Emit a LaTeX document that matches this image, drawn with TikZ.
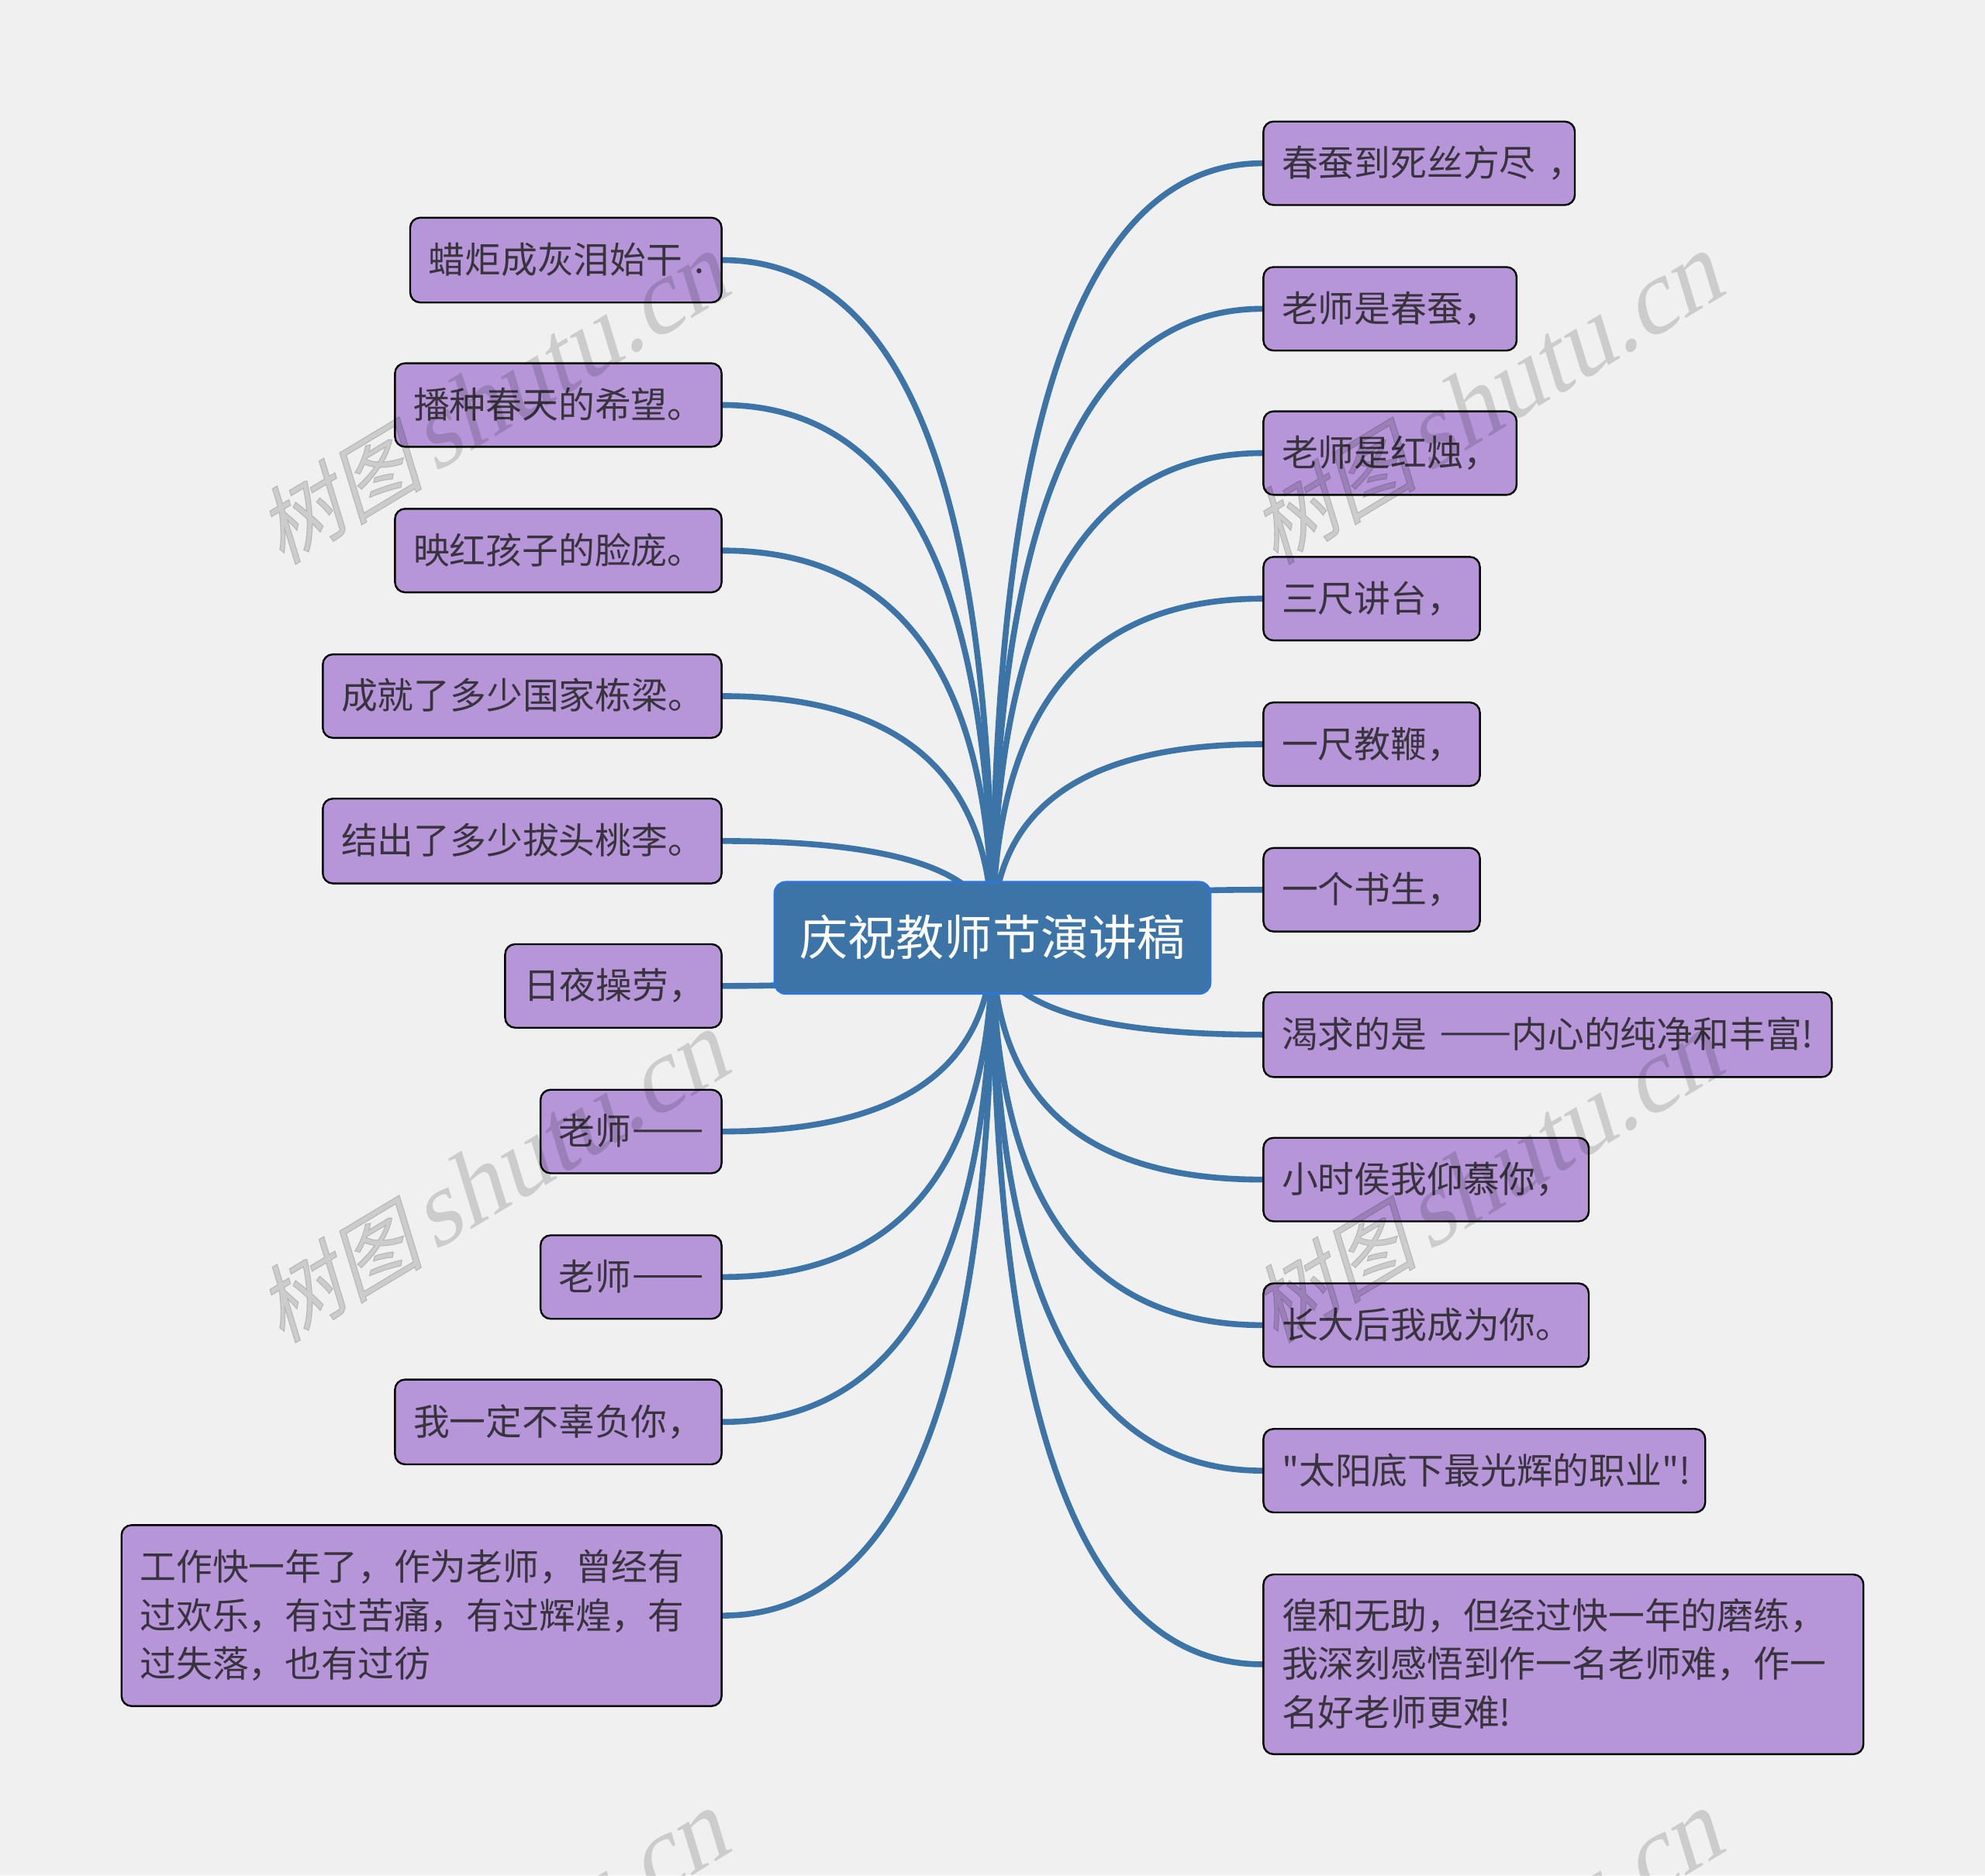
\documentclass[tikz,border=0pt]{standalone}
\usepackage{fontspec}
\setmainfont{Noto Sans CJK SC}[Ligatures=TeXOff]
\newfontfamily\wmlatin{Liberation Serif}[FakeSlant=0.25]
\newfontfamily\wmcjk{Noto Sans CJK SC}[FakeSlant=0.25,FakeBold=1]
\usetikzlibrary{calc}
\pgfdeclarelayer{back}
\pgfsetlayers{back,main}
\definecolor{bgc}{HTML}{F0F0F0}
\definecolor{linec}{HTML}{3C74A8}
\definecolor{rootb}{HTML}{2F74D8}
\definecolor{leaff}{HTML}{B696D9}
\definecolor{txtc}{HTML}{38333D}
\tikzset{
 leaf/.style={draw=black,line width=1.2pt,fill=leaff,rounded corners=6.5pt,inner xsep=0pt,inner ysep=0pt,text=txtc,align=left,font=\fontsize{23.4pt}{31.3pt}\selectfont},
 rootn/.style={draw=rootb,line width=1.5pt,fill=linec,rounded corners=7pt,inner sep=0pt,text=white,align=center,font=\fontsize{31.1pt}{36pt}\selectfont,text height=27pt,text depth=4pt},
 conn/.style={draw=linec,line width=3.8pt},
 wm/.style={text=black,text opacity=0.15,rotate=31,inner sep=0pt}
}
\newcommand\tl[1]{\mbox{\rule[-3.2pt]{0pt}{23.4pt}#1}}
\newcommand\fd{{\addfontfeatures{RawFeature=+fwid,FakeBold=2}——}}
\newcommand\lbx[6]{%
 \pgfmathsetlengthmacro\mw{(#4-#2)*0.8163pt}%
 \pgfmathsetlengthmacro\mh{(#5-#3)*0.8163pt}%
 \pgfmathsetlengthmacro\tw{(#4-#2-29)*0.8163pt}%
 \node[leaf,minimum width=\mw,minimum height=\mh,text width=\tw] (#1) at ({(#2+#4)/2},{(#3+#5)/2}) {#6};}
\newcommand\wmk[3]{\node[wm] (#1) at (#2,#3) {{\wmcjk\fontsize{54pt}{60pt}\selectfont 树图}\hspace{5pt} {\wmlatin\fontsize{67pt}{67pt}\selectfont shutu.cn}};}
\begin{document}
\begin{tikzpicture}[x=0.8163pt,y=-0.8163pt]
\useasboundingbox (0,0) rectangle (1568,1481.7);
\begin{pgfonlayer}{back}
\fill[bgc] (0,0) rectangle (1568,1481.7);
\end{pgfonlayer}
\pgfmathsetlengthmacro\rw{344*0.8163pt}
\pgfmathsetlengthmacro\rh{88*0.8163pt}
\node[rootn,minimum width=\rw,minimum height=\rh] (root) at (784,741) {庆祝教师节演讲稿};
\lbx{L1}{324}{172}{570}{239}{\tl{蜡炬成灰泪始干 .}}
\lbx{L2}{312}{287}{570}{353}{\tl{播种春天的希望。}}
\lbx{L3}{312}{402}{570}{468}{\tl{映红孩子的脸庞。}}
\lbx{L4}{255}{517}{570}{583}{\tl{成就了多少国家栋梁。}}
\lbx{L5}{255}{631}{570}{698}{\tl{结出了多少拔头桃李。}}
\lbx{L6}{399}{746}{570}{812}{\tl{日夜操劳，}}
\lbx{L7}{427}{861}{570}{927}{\tl{老师\fd}}
\lbx{L8}{427}{976}{570}{1042}{\tl{老师\fd}}
\lbx{L9}{312}{1090}{570}{1157}{\tl{我一定不辜负你，}}
\lbx{L10}{96}{1205}{570}{1348}{\tl{工作快一年了，作为老师，曾经有}\\\tl{过欢乐，有过苦痛，有过辉煌，有}\\\tl{过失落，也有过彷}}
\lbx{R1}{998}{96}{1244}{162}{\tl{春蚕到死丝方尽 ，}}
\lbx{R2}{998}{211}{1198}{277}{\tl{老师是春蚕，}}
\lbx{R3}{998}{325}{1198}{391}{\tl{老师是红烛，}}
\lbx{R4}{998}{440}{1169}{506}{\tl{三尺讲台，}}
\lbx{R5}{998}{555}{1169}{621}{\tl{一尺教鞭，}}
\lbx{R6}{998}{670}{1169}{736}{\tl{一个书生，}}
\lbx{R7}{998}{784}{1447}{851}{\tl{渴求的是 \fd 内心的纯净和丰富!}}
\lbx{R8}{998}{899}{1255}{965}{\tl{小时侯我仰慕你，}}
\lbx{R9}{998}{1014}{1255}{1080}{\tl{长大后我成为你。}}
\lbx{R10}{998}{1129}{1347}{1195}{\tl{"太阳底下最光辉的职业"!}}
\lbx{R11}{998}{1244}{1472}{1386}{\tl{徨和无助，但经过快一年的磨练，}\\\tl{我深刻感悟到作一名老师难，作一}\\\tl{名好老师更难!}}
\begin{pgfonlayer}{back}
\foreach \n in {L1,L2,L3,L4,L5,L6,L7,L8,L9,L10}{
 \draw[conn] (root.center) .. controls ($(root.center)!.667!(root.center |- \n.east)$) and ($(\n.east)!.667!(root.center |- \n.east)$) .. (\n.east);
}
\foreach \n in {R1,R2,R3,R4,R5,R6,R7,R8,R9,R10,R11}{
 \draw[conn] (root.center) .. controls ($(root.center)!.667!(root.center |- \n.west)$) and ($(\n.west)!.667!(root.center |- \n.west)$) .. (\n.west);
}
\end{pgfonlayer}
\wmk{w1}{388}{317}
\wmk{w2}{1173}{317}
\wmk{w3}{388}{932}
\wmk{w4}{1173}{932}
\wmk{w5}{388}{1547}
\wmk{w6}{1173}{1547}
\end{tikzpicture}
\end{document}
